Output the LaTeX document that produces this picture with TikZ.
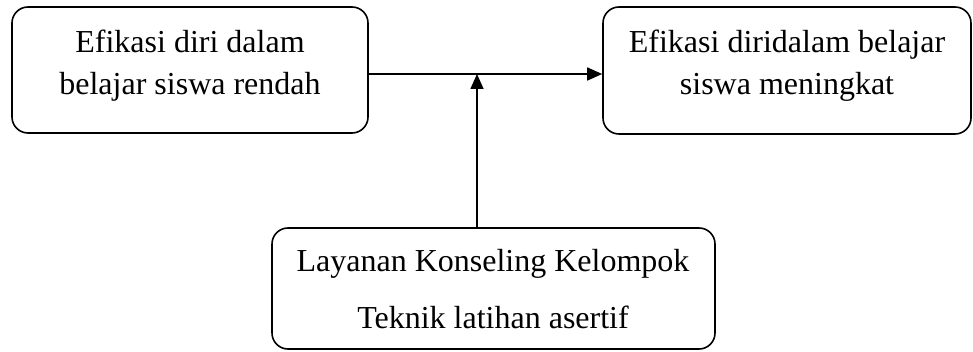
\documentclass[tikz,border=0pt]{standalone}
\usepackage{fontspec}
\setmainfont{Liberation Serif}
\usetikzlibrary{arrows.meta}
\begin{document}
\begin{tikzpicture}[x=1pt,y=-1pt,
  box/.style={draw,line width=1.6pt,rounded corners=16pt,inner sep=0pt},
  txt/.style={font=\fontsize{32}{42}\selectfont,align=center,inner sep=0pt,anchor=base},
  arr/.style={line width=1.6pt,-{Triangle[length=15pt,width=13pt]}}]
\useasboundingbox (0,0) rectangle (973,352);
\node[box,minimum width=356pt,minimum height=126pt] (a) at (190,70) {};
\node[box,minimum width=368pt,minimum height=127pt] (b) at (787,70.5) {};
\node[box,minimum width=443pt,minimum height=121pt] (c) at (493.5,288.5) {};
\node[txt] (a1) at (190,53) {Efikasi diri dalam};
\node[txt] (a2) at (190,95) {belajar siswa rendah};
\node[txt] (b1) at (787,53) {Efikasi diridalam belajar};
\node[txt] (b2) at (787,95) {siswa meningkat};
\node[txt] (c1) at (493,272) {Layanan Konseling Kelompok};
\node[txt] (c2) at (493,328) {Teknik latihan asertif};
\coordinate (j) at (477,74);
\draw[arr] (a.east |- j) -- (b.west |- j);
\draw[arr] (c.north -| j) -- (j);
\end{tikzpicture}
\end{document}
